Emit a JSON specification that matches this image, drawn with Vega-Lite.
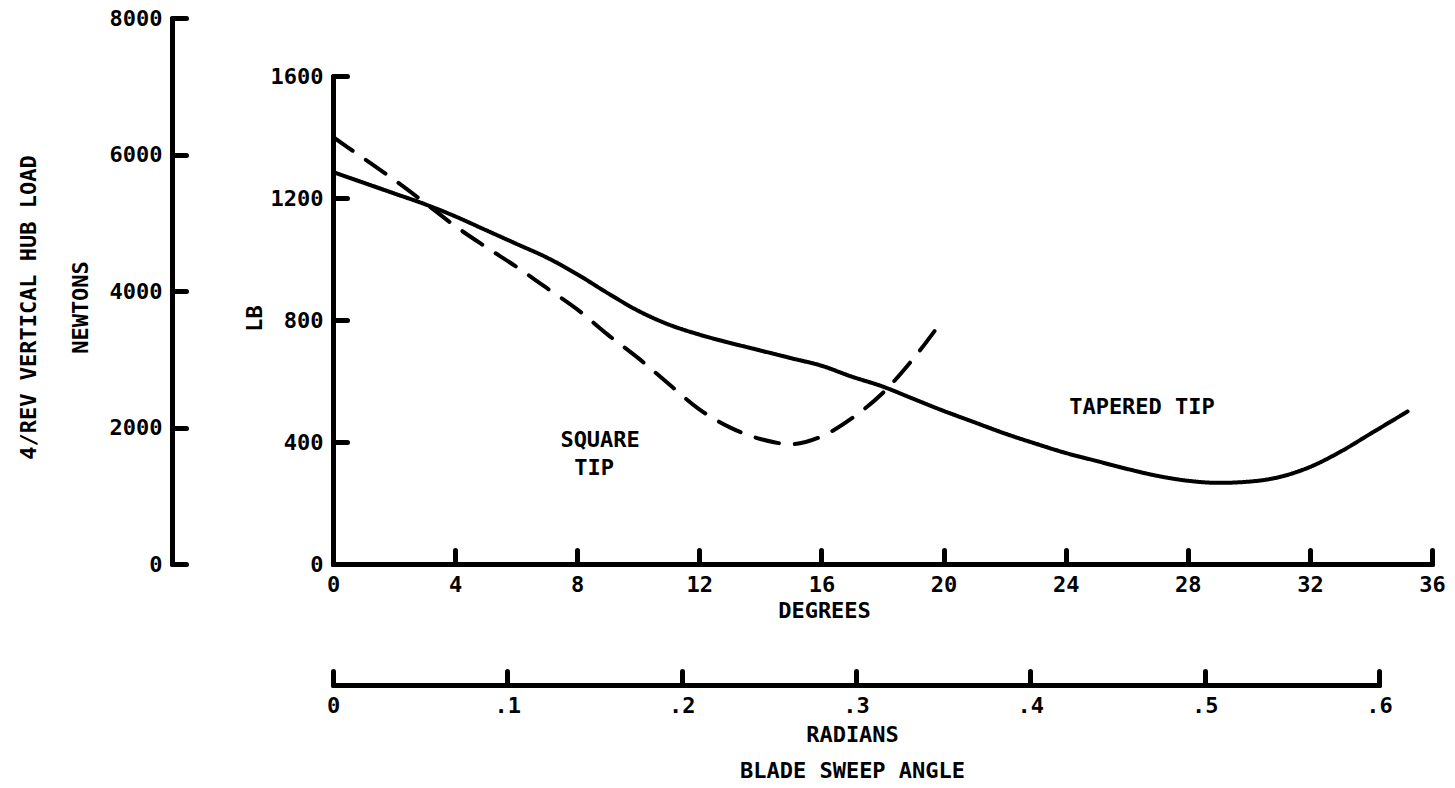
{
  "$schema": "https://vega.github.io/schema/vega-lite/v6.json",
  "width": 1099,
  "height": 546,
  "autosize": {"type": "none"},
  "padding": {"left": 333, "top": 18, "right": 23, "bottom": 224},
  "background": "white",
  "config": {
    "view": {"stroke": null},
    "axis": {
      "domainColor": "black", "domainWidth": 5, "domainCap": "round",
      "tickColor": "black", "tickWidth": 5, "tickSize": -14, "tickCap": "round",
      "grid": false,
      "labelFont": "DejaVu Sans Mono", "labelFontWeight": "bold", "labelFontSize": 22, "labelColor": "black",
      "labelFlush": false, "labelPadding": 24, "format": "d",
      "titleFont": "DejaVu Sans Mono", "titleFontWeight": "bold", "titleFontSize": 22, "titleColor": "black"
    }
  },
  "datasets": {
    "curves": [
      {"deg": 0, "lb": 1285, "tip": "TAPERED TIP"},
      {"deg": 1, "lb": 1250, "tip": "TAPERED TIP"},
      {"deg": 2, "lb": 1215, "tip": "TAPERED TIP"},
      {"deg": 3, "lb": 1180, "tip": "TAPERED TIP"},
      {"deg": 4, "lb": 1140, "tip": "TAPERED TIP"},
      {"deg": 5, "lb": 1095, "tip": "TAPERED TIP"},
      {"deg": 6, "lb": 1050, "tip": "TAPERED TIP"},
      {"deg": 7, "lb": 1005, "tip": "TAPERED TIP"},
      {"deg": 8, "lb": 950, "tip": "TAPERED TIP"},
      {"deg": 9, "lb": 888, "tip": "TAPERED TIP"},
      {"deg": 10, "lb": 830, "tip": "TAPERED TIP"},
      {"deg": 11, "lb": 785, "tip": "TAPERED TIP"},
      {"deg": 12, "lb": 752, "tip": "TAPERED TIP"},
      {"deg": 13, "lb": 725, "tip": "TAPERED TIP"},
      {"deg": 14, "lb": 700, "tip": "TAPERED TIP"},
      {"deg": 15, "lb": 675, "tip": "TAPERED TIP"},
      {"deg": 16, "lb": 650, "tip": "TAPERED TIP"},
      {"deg": 17, "lb": 614, "tip": "TAPERED TIP"},
      {"deg": 18, "lb": 582, "tip": "TAPERED TIP"},
      {"deg": 19, "lb": 542, "tip": "TAPERED TIP"},
      {"deg": 20, "lb": 502, "tip": "TAPERED TIP"},
      {"deg": 21, "lb": 465, "tip": "TAPERED TIP"},
      {"deg": 22, "lb": 428, "tip": "TAPERED TIP"},
      {"deg": 23, "lb": 395, "tip": "TAPERED TIP"},
      {"deg": 24, "lb": 364, "tip": "TAPERED TIP"},
      {"deg": 25, "lb": 338, "tip": "TAPERED TIP"},
      {"deg": 26, "lb": 312, "tip": "TAPERED TIP"},
      {"deg": 27, "lb": 289, "tip": "TAPERED TIP"},
      {"deg": 28, "lb": 273, "tip": "TAPERED TIP"},
      {"deg": 29, "lb": 266, "tip": "TAPERED TIP"},
      {"deg": 30, "lb": 270, "tip": "TAPERED TIP"},
      {"deg": 31, "lb": 285, "tip": "TAPERED TIP"},
      {"deg": 32, "lb": 318, "tip": "TAPERED TIP"},
      {"deg": 33, "lb": 368, "tip": "TAPERED TIP"},
      {"deg": 34, "lb": 428, "tip": "TAPERED TIP"},
      {"deg": 35, "lb": 488, "tip": "TAPERED TIP"},
      {"deg": 35.2, "lb": 500, "tip": "TAPERED TIP"},
      {"deg": 0, "lb": 1400, "tip": "SQUARE TIP"},
      {"deg": 1, "lb": 1330, "tip": "SQUARE TIP"},
      {"deg": 2, "lb": 1260, "tip": "SQUARE TIP"},
      {"deg": 3, "lb": 1185, "tip": "SQUARE TIP"},
      {"deg": 4, "lb": 1108, "tip": "SQUARE TIP"},
      {"deg": 5, "lb": 1040, "tip": "SQUARE TIP"},
      {"deg": 6, "lb": 975, "tip": "SQUARE TIP"},
      {"deg": 7, "lb": 905, "tip": "SQUARE TIP"},
      {"deg": 8, "lb": 835, "tip": "SQUARE TIP"},
      {"deg": 9, "lb": 752, "tip": "SQUARE TIP"},
      {"deg": 10, "lb": 675, "tip": "SQUARE TIP"},
      {"deg": 11, "lb": 590, "tip": "SQUARE TIP"},
      {"deg": 12, "lb": 507, "tip": "SQUARE TIP"},
      {"deg": 13, "lb": 448, "tip": "SQUARE TIP"},
      {"deg": 14, "lb": 410, "tip": "SQUARE TIP"},
      {"deg": 15, "lb": 393, "tip": "SQUARE TIP"},
      {"deg": 16, "lb": 418, "tip": "SQUARE TIP"},
      {"deg": 17, "lb": 478, "tip": "SQUARE TIP"},
      {"deg": 18, "lb": 560, "tip": "SQUARE TIP"},
      {"deg": 19, "lb": 672, "tip": "SQUARE TIP"},
      {"deg": 19.9, "lb": 790, "tip": "SQUARE TIP"}
    ],
    "labels": [
      {"deg": 8.75, "lb": 407, "text": "SQUARE"},
      {"deg": 8.55, "lb": 315, "text": "TIP"},
      {"deg": 26.5, "lb": 515, "text": "TAPERED TIP"}
    ],
    "newtons": [{"n": 0}, {"n": 8000}],
    "radians": [{"rad": 0}, {"rad": 0.6}]
  },
  "layer": [
    {
      "layer": [
        {
          "data": {"name": "curves"},
          "mark": {"type": "line", "color": "black", "strokeWidth": 4, "interpolate": "monotone", "strokeCap": "round"},
          "encoding": {
            "x": {
              "field": "deg", "type": "quantitative",
              "scale": {"domain": [0, 36], "nice": false, "zero": true},
              "axis": {
                "orient": "bottom",
                "values": [0, 4, 8, 12, 16, 20, 24, 28, 32, 36],
                "title": "DEGREES",
                "titleX": 491, "titleY": 46, "titleAlign": "center", "titleBaseline": "middle", "titleAngle": 0
              }
            },
            "y": {
              "field": "lb", "type": "quantitative",
              "scale": {"domain": [0, 1600], "range": [546, 58], "nice": false, "zero": true},
              "axis": {
                "orient": "left",
                "values": [0, 400, 800, 1200, 1600],
                "title": "LB",
                "titleX": -79, "titleY": 300, "titleAlign": "center", "titleBaseline": "middle", "titleAngle": 270
              }
            },
            "strokeDash": {
              "field": "tip", "type": "nominal",
              "scale": {"domain": ["SQUARE TIP", "TAPERED TIP"], "range": [[24, 16], [1, 0]]},
              "legend": null
            }
          }
        },
        {
          "data": {"name": "labels"},
          "mark": {"type": "text", "font": "DejaVu Sans Mono", "fontWeight": "bold", "fontSize": 22, "color": "black", "align": "center", "baseline": "middle"},
          "encoding": {
            "x": {"field": "deg", "type": "quantitative"},
            "y": {"field": "lb", "type": "quantitative"},
            "text": {"field": "text", "type": "nominal"}
          }
        }
      ]
    },
    {
      "data": {"name": "newtons"},
      "mark": {"type": "point", "opacity": 0},
      "encoding": {
        "y": {
          "field": "n", "type": "quantitative",
          "scale": {"domain": [0, 8000], "range": [546, 0], "nice": false, "zero": true},
          "axis": {
            "orient": "left", "offset": 161,
            "values": [0, 2000, 4000, 6000, 8000],
            "title": ["4/REV VERTICAL HUB LOAD", "NEWTONS"],
            "titleLineHeight": 52,
            "titleX": -144, "titleY": 289, "titleAlign": "center", "titleBaseline": "middle", "titleAngle": 270
          }
        }
      }
    },
    {
      "data": {"name": "radians"},
      "mark": {"type": "point", "opacity": 0},
      "encoding": {
        "x": {
          "field": "rad", "type": "quantitative",
          "scale": {"domain": [0, 0.6], "range": [0, 1046], "nice": false, "zero": true},
          "axis": {
            "orient": "bottom", "offset": 121,
            "values": [0, 0.1, 0.2, 0.3, 0.4, 0.5, 0.6],
            "labelExpr": "datum.value == 0 ? '0' : replace(format(datum.value, '.1f'), '0.', '.')",
            "title": ["RADIANS", "BLADE SWEEP ANGLE"],
            "titleLineHeight": 36,
            "titleX": 519, "titleY": 49, "titleAlign": "center", "titleBaseline": "middle", "titleAngle": 0
          }
        }
      }
    }
  ],
  "resolve": {
    "scale": {"x": "independent", "y": "independent"},
    "axis": {"x": "independent", "y": "independent"}
  }
}
